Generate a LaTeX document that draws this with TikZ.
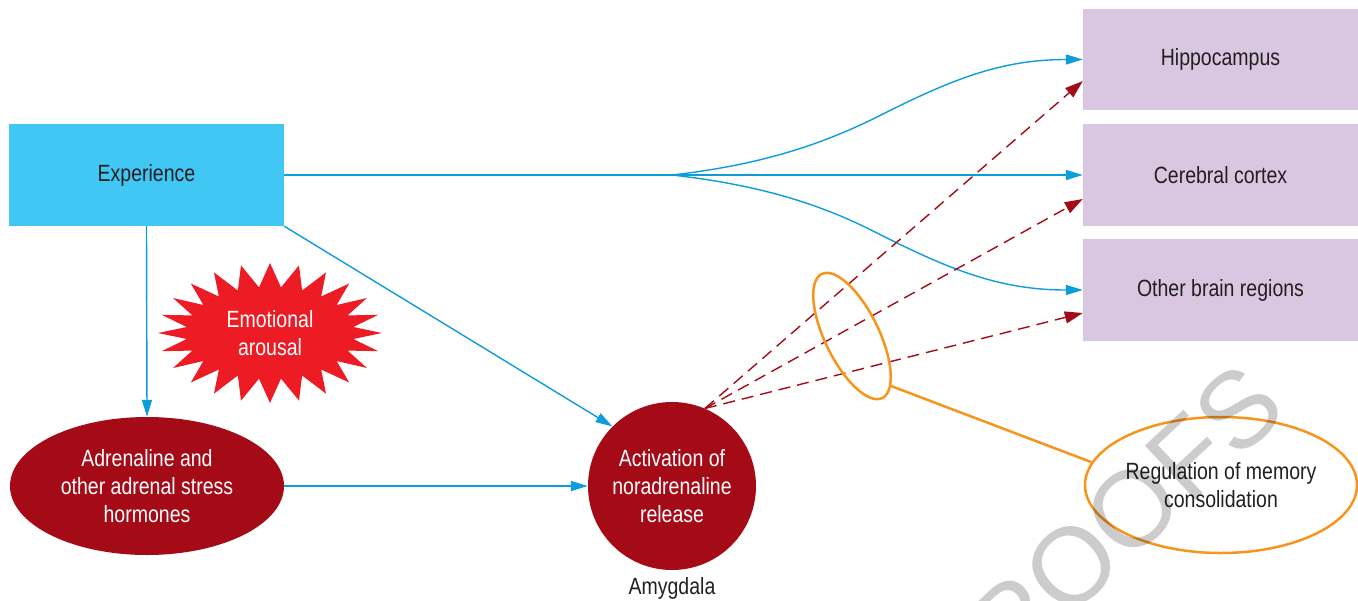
\documentclass[tikz,border=0pt]{standalone}
\usepackage{fontspec}
\setmainfont{Liberation Sans}[FakeStretch=0.83]
\newfontfamily\wmfont{Liberation Sans}
\usetikzlibrary{arrows.meta,calc,shapes.geometric}
\definecolor{expblue}{HTML}{41C7F4}
\definecolor{lineblue}{HTML}{0D9DDB}
\definecolor{lav}{HTML}{D9C6E0}
\definecolor{dred}{HTML}{A50B16}
\definecolor{bred}{HTML}{ED1C24}
\definecolor{orng}{HTML}{F7941D}
\definecolor{txt}{HTML}{231F20}
\begin{document}
\begin{tikzpicture}[x=1pt,y=1pt,
  lbl/.style={font=\fontsize{23.5}{28}\selectfont, align=center, inner sep=0pt},
  box/.style={lbl, rectangle, minimum width=275pt, minimum height=102pt, text=txt},
  expbox/.style={box, fill=expblue},
  brainbox/.style={box, fill=lav},
  redshape/.style={lbl, fill=dred, text=white},
  bluearrow/.style={draw=lineblue, line width=1.4pt, -{Triangle[length=17pt,width=10pt]}},
  redarrow/.style={draw=dred, line width=1.4pt, dash pattern=on 12pt off 7pt, -{Triangle[length=18pt,width=12pt]}},
  orangeline/.style={draw=orng, line width=2.5pt},
]
\useasboundingbox (0,0) rectangle (1358,-600);

% boxes
\node[expbox] (exp) at (146.5,-175) {Experience};
\node[brainbox, minimum height=101pt] (hippo) at (1220.5,-59.5) {Hippocampus};
\node[brainbox] (cortex) at (1220.5,-175) {Cerebral cortex};
\node[brainbox] (other) at (1220.5,-290) {Other brain regions};

% red shapes
\node[redshape, ellipse, minimum width=274pt, minimum height=138pt] (adr) at (147,-486)
  {Adrenaline and\\other adrenal stress\\hormones};
\node[redshape, circle, minimum size=168pt] (act) at (672,-486)
  {Activation of\\noradrenaline\\release};
\node[lbl, text=txt] (amy) at (672,-588) {Amygdala};

% starburst
\fill[bred] (382,-333)
  \foreach \i in {1,...,47} {
    -- ({270+ifthenelse(isodd(\i),84,112)*cos(\i*7.5)},
        {-333+ifthenelse(isodd(\i),46,70)*sin(\i*7.5)})
  } -- cycle;
\node[lbl, text=white] (emo) at (270,-333) {Emotional\\arousal};

% regulation
\node[lbl, ellipse, orangeline, minimum width=272pt, minimum height=136pt, text=txt] (reg)
  at (1221,-485) {Regulation of memory\\consolidation};

% blue connectors
\coordinate (split) at (672,-175);
\draw[bluearrow, line width=1.8pt] (exp.east) -- (cortex.west);
\draw[bluearrow] (split) .. controls (760,-165) and (820,-145) .. (875,-118)
  .. controls (950,-80) and (1000,-59.5) .. (hippo.west);
\draw[bluearrow] (split) .. controls (760,-185) and (820,-204) .. (875,-232)
  .. controls (950,-270) and (1000,-290) .. (other.west);
\draw[bluearrow] (exp.south) -- (adr.north);
\draw[bluearrow] (exp.south east) -- (act.135);
\draw[bluearrow] (adr.east) -- (act.west);

% dashed red connectors
\coordinate (src) at (act.67);
\draw[redarrow] (src) -- ([yshift=-21.5pt]hippo.west);
\draw[redarrow] (src) -- ([yshift=-24pt]cortex.west);
\draw[redarrow] (src) -- ([yshift=-23pt]other.west);

% small orange ellipse and link
\node[ellipse, orangeline, rotate=-64, minimum width=138pt, minimum height=54pt, inner sep=0pt] (grp) at (852,-336) {};
\draw[orangeline] (grp.12) -- (reg.170);

% watermark
\node[rotate=43, text=black, text opacity=0.2, font=\wmfont\fontsize{108}{108}\selectfont, inner sep=0pt] (wm) at (1098,-541) {PROOFS};
\end{tikzpicture}
\end{document}
